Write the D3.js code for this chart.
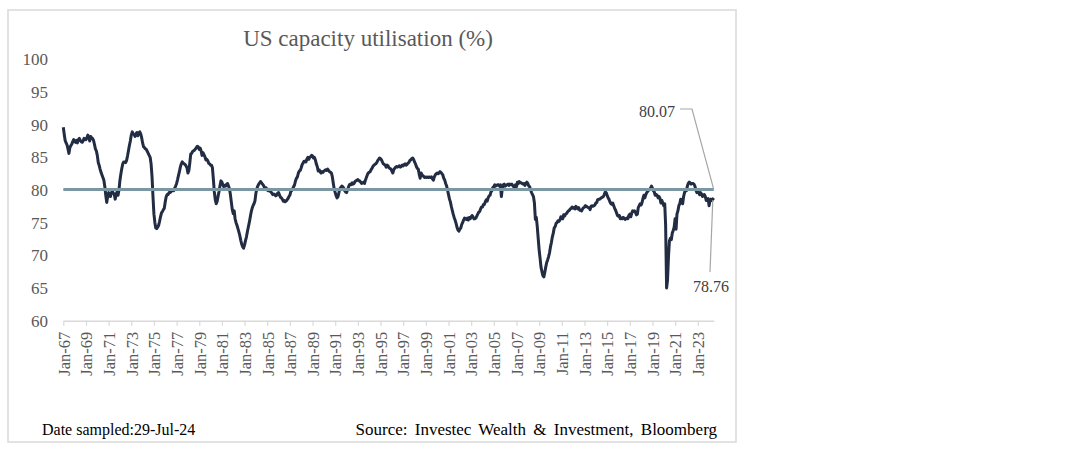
<!DOCTYPE html>
<html>
<head>
<meta charset="utf-8">
<script src="https://cdn.jsdelivr.net/npm/d3@7"></script>
<style>
body{margin:0;background:#fff;}
svg text{font-family:"Liberation Serif","Times New Roman",serif;}
</style>
</head>
<body>
<svg id="chart_svg" width="1088" height="450"></svg>
<script>
// monthly values, one row per year, Jan-67 .. Jun-24
var years = d3.range(1967, 2025);
var capacity_util = [
[89.6,88.5,87.6,87.2,86.9,86.3,85.6,86.5,86.8,87.0,87.4,87.7],
[87.5,87.3,87.6,87.2,87.7,87.9,87.6,87.4,87.3,87.5,87.9,87.8],
[87.7,88.0,88.4,88.1,87.5,88.2,88.0,87.9,87.6,87.0,86.3,86.0],
[85.3,84.2,83.8,83.2,82.7,82.3,81.9,81.5,80.5,79.2,78.1,79.0],
[79.6,79.3,79.0,79.6,79.8,79.5,79.4,78.6,79.4,79.7,79.2,80.0],
[81.5,82.5,83.3,84.0,84.3,84.3,84.2,84.5,85.2,86.0,86.8,87.5],
[88.4,88.9,88.6,88.5,88.2,88.6,88.8,88.3,88.7,88.9,88.6,88.0],
[87.2,86.6,86.5,86.3,86.2,85.9,85.6,85.3,85.0,84.0,82.0,79.0],
[76.3,75.0,74.2,74.1,74.3,74.6,75.2,75.9,76.5,76.7,77.0,77.2],
[78.2,79.0,79.3,79.3,79.6,79.6,79.7,79.9,80.0,79.9,80.3,80.6],
[81.0,81.6,82.2,82.8,83.5,84.0,84.3,84.1,84.0,83.9,83.7,83.4],
[82.6,83.0,84.1,85.5,85.6,85.9,86.0,86.1,86.3,86.5,86.7,86.6],
[86.2,86.4,86.0,85.3,85.7,85.4,85.1,84.6,84.7,84.5,84.1,84.0],
[83.8,83.8,83.4,81.6,79.7,78.5,77.9,78.3,79.1,79.8,80.7,81.4],
[81.2,80.8,80.5,80.7,80.6,80.9,81.0,80.6,80.2,79.3,78.1,77.0],
[76.4,76.8,75.6,75.0,74.6,74.1,73.6,73.0,72.3,71.7,71.3,71.1],
[71.6,72.3,72.8,73.6,74.3,75.0,75.8,76.6,77.2,77.6,77.9,78.3],
[79.5,80.2,80.6,80.9,81.1,81.3,81.1,80.9,80.7,80.4,80.4,80.3],
[80.0,79.9,80.1,79.8,79.7,79.5,79.3,79.4,79.3,79.1,79.2,79.5],
[79.6,79.2,78.9,78.8,78.6,78.3,78.4,78.2,78.3,78.5,78.7,79.0],
[79.2,79.8,79.9,80.2,80.5,80.8,81.4,81.8,82.0,82.6,82.9,83.0],
[83.4,83.9,84.1,84.4,84.4,84.3,84.7,85.0,84.7,85.0,85.1,85.3],
[85.2,84.9,85.0,84.6,84.0,83.6,82.9,83.1,82.8,82.6,82.8,82.7],
[82.9,83.0,83.1,83.0,83.2,83.0,82.8,82.7,82.6,82.0,81.0,80.1],
[79.6,79.1,78.8,79.0,79.6,80.2,80.4,80.6,80.5,80.3,79.9,79.7],
[79.6,80.0,80.4,80.8,80.9,80.8,81.1,80.9,81.0,81.3,81.4,81.5],
[81.6,81.4,81.4,81.2,81.0,81.1,81.2,81.0,81.5,81.9,82.3,82.6],
[82.7,82.8,83.1,83.3,83.6,83.8,83.9,84.0,84.2,84.5,84.7,84.9],
[84.8,84.6,84.3,84.0,83.9,83.8,83.5,83.8,83.7,83.4,83.3,83.2],
[82.9,82.6,83.1,83.3,83.5,83.6,83.5,83.6,83.7,83.5,83.6,83.8],
[83.7,83.9,84.0,83.8,83.9,84.1,84.2,84.5,84.6,84.8,84.9,84.7],
[84.3,84.0,83.6,83.3,83.2,82.4,81.8,82.6,82.3,82.2,82.0,81.9],
[82.0,81.9,82.0,81.9,82.0,81.9,82.0,81.7,81.5,82.0,82.3,82.5],
[82.6,82.5,82.6,82.8,82.7,82.5,82.3,81.8,81.5,81.0,80.6,80.0],
[79.3,78.6,78.2,77.5,76.9,76.3,75.8,75.4,74.9,74.3,73.9,73.7],
[74.0,74.2,74.7,75.0,75.4,75.7,75.6,75.5,75.7,75.4,75.8,75.6],
[75.9,76.1,75.9,75.6,75.6,75.7,76.0,76.3,76.6,76.7,77.1,77.4],
[77.4,77.8,77.8,78.2,78.5,78.3,78.8,79.1,79.2,79.7,79.9,80.4],
[80.5,80.8,80.6,80.7,80.8,80.8,80.6,80.8,79.0,80.2,80.8,80.9],
[80.6,80.7,80.8,80.9,80.7,80.9,80.8,80.9,80.7,80.5,80.3,80.8],
[80.5,81.2,81.0,81.3,81.1,81.1,81.0,80.9,81.0,80.7,81.0,81.2],
[81.0,80.6,80.5,80.0,79.6,79.3,79.0,78.0,75.5,75.8,74.4,72.6],
[70.8,69.5,68.2,67.5,66.9,66.7,67.4,68.2,68.9,69.3,69.8,70.4],
[71.3,72.0,72.8,73.4,74.2,74.4,74.9,75.0,75.3,75.2,75.4,75.9],
[75.8,75.6,76.2,76.0,76.3,76.4,76.6,76.8,76.9,77.1,77.2,77.4],
[77.2,77.3,77.1,77.5,77.3,77.1,77.3,76.9,76.9,76.8,77.1,77.3],
[77.4,77.6,77.5,77.4,77.3,77.3,77.0,77.5,77.6,77.5,77.6,77.7],
[78.0,78.1,78.5,78.6,78.6,78.7,78.8,78.9,79.0,79.3,79.7,79.6],
[79.2,78.8,78.6,78.2,77.9,77.8,78.0,77.6,77.2,76.9,76.5,76.1],
[76.0,76.1,75.6,75.7,75.6,75.8,75.7,75.5,75.6,75.7,75.6,76.1],
[76.3,75.9,76.4,76.8,76.7,76.8,76.6,76.2,76.3,77.3,77.6,77.9],
[77.7,78.1,78.7,79.2,78.8,79.3,79.6,79.8,80.0,80.1,80.3,80.6],
[80.3,79.9,79.7,79.2,79.3,79.2,78.8,79.0,78.7,78.0,78.4,78.0],
[77.6,77.9,74.6,65.0,66.2,69.8,72.2,72.6,72.4,73.4,73.8,74.3],
[75.6,74.0,76.3,76.8,77.6,77.9,78.6,78.5,77.9,79.0,79.6,80.0],
[79.9,80.6,81.0,81.2,81.1,80.9,81.0,81.0,80.9,80.6,80.0,79.6],
[79.8,79.6,79.3,79.6,79.4,79.0,79.2,79.3,79.0,78.4,78.6,78.7],
[77.6,78.4,78.6,78.4,78.6,78.76]
];
var y_ticks = [60,65,70,75,80,85,90,95,100];
var avg_value = 80.07;
var latest_value = 78.76;

var util_data = [];
years.forEach(function(yr, i){
  capacity_util[i].forEach(function(v, m){ util_data.push({date:new Date(yr, m, 1), value:v}); });
});

var svg = d3.select("#chart_svg");

svg.append("rect").attr("x", 8).attr("y", 10).attr("width", 728).attr("height", 432)
  .attr("fill", "none").attr("stroke", "#d9d9d9").attr("stroke-width", 1.5);

var x = d3.scaleTime().domain([util_data[0].date, util_data[util_data.length-1].date]).range([63.3, 713.8]);
var y = d3.scaleLinear().domain([60, 100]).range([320.7, 59.3]);

svg.append("text").attr("x", 368).attr("y", 46).attr("text-anchor", "middle")
  .attr("fill", "#595959").style("font-size", "23px").text("US capacity utilisation (%)");

// y labels, no axis line
var y_axis = svg.append("g").attr("transform", "translate(52,0)")
  .call(d3.axisLeft(y).tickValues(y_ticks).tickSize(0).tickPadding(4));
y_axis.select(".domain").remove();
y_axis.selectAll("text").attr("fill", "#595959").style("font-size", "17px").style("font-family", "Liberation Serif");

var x_ticks = d3.range(1967, 2024, 2).map(function(yr){ return new Date(yr, 0, 1); });
var x_axis = svg.append("g").attr("transform", "translate(0," + y(60) + ")")
  .call(d3.axisBottom(x).tickValues(x_ticks).tickFormat(d3.timeFormat("%b-%y")).tickSizeInner(5).tickSizeOuter(0));
x_axis.select(".domain").attr("stroke", "#d9d9d9").attr("stroke-width", 1.5);
x_axis.selectAll(".tick line").attr("stroke", "#d9d9d9").attr("stroke-width", 1.2);
x_axis.selectAll("text").attr("fill", "#595959").style("font-size", "16.5px").style("font-family", "Liberation Serif")
  .attr("text-anchor", "end").attr("transform", "rotate(-90)").attr("x", -11).attr("y", 0).attr("dy", "0.35em");

var line = d3.line().x(function(d){ return x(d.date); }).y(function(d){ return y(d.value); });
svg.append("path").datum(util_data).attr("d", line).attr("fill", "none")
  .attr("stroke", "#222c42").attr("stroke-width", 3).attr("stroke-linejoin", "round");

svg.append("line").attr("x1", x.range()[0]).attr("x2", x.range()[1]).attr("y1", y(avg_value)).attr("y2", y(avg_value))
  .attr("stroke", "#7b97a4").attr("stroke-width", 3);

// annotations
var x_end = x.range()[1];
svg.append("polyline").attr("points", [[680,109],[692,109],[x_end, y(avg_value)]].join(" "))
  .attr("fill", "none").attr("stroke", "#a6a6a6").attr("stroke-width", 1.2);
svg.append("text").attr("x", 675).attr("y", 117).attr("text-anchor", "end").attr("fill", "#404040")
  .style("font-size", "16px").text(avg_value.toFixed(2));
svg.append("line").attr("x1", x_end - 1).attr("y1", y(latest_value) + 2).attr("x2", 710).attr("y2", 272)
  .attr("stroke", "#a6a6a6").attr("stroke-width", 1.2);
svg.append("text").attr("x", 729).attr("y", 292).attr("text-anchor", "end").attr("fill", "#404040")
  .style("font-size", "16px").text(latest_value.toFixed(2));

svg.append("text").attr("x", 42).attr("y", 435).attr("fill", "#000").style("font-size", "16px").text("Date sampled:29-Jul-24");
svg.append("text").attr("x", 717).attr("y", 435).attr("text-anchor", "end").attr("fill", "#000")
  .style("font-size", "17px").style("word-spacing", "3px").text("Source: Investec Wealth & Investment, Bloomberg");
</script>
</body>
</html>
